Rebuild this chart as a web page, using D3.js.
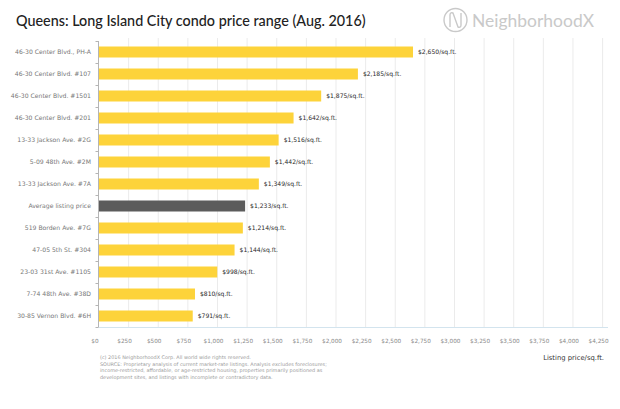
<!DOCTYPE html>
<html>
<head>
<meta charset="utf-8">
<script src="https://cdn.jsdelivr.net/npm/d3@7"></script>
<style>
  html, body { margin: 0; padding: 0; background: #fff; }
  svg { display: block; }
  text { font-family: "DejaVu Sans", "Open Sans", sans-serif; }
  .big { font-family: "Lato", "Open Sans", sans-serif; }
</style>
</head>
<body>
<script>
const categories = [
  "46-30 Center Blvd., PH-A",
  "46-30 Center Blvd. #107",
  "46-30 Center Blvd. #1501",
  "46-30 Center Blvd. #201",
  "13-33 Jackson Ave. #2G",
  "5-09 48th Ave. #2M",
  "13-33 Jackson Ave. #7A",
  "Average listing price",
  "519 Borden Ave. #7G",
  "47-05 5th St. #304",
  "23-03 31st Ave. #1105",
  "7-74 48th Ave. #38D",
  "30-85 Vernon Blvd. #6H"
];
const values = [2650, 2185, 1875, 1642, 1516, 1442, 1349, 1233, 1214, 1144, 998, 810, 791];
const highlightCategory = "Average listing price";
const xTickValues = [0, 250, 500, 750, 1000, 1250, 1500, 1750, 2000, 2250, 2500, 2750, 3000, 3250, 3500, 3750, 4000, 4250];
const title = "Queens: Long Island City condo price range (Aug. 2016)";
const brand = "NeighborhoodX";
const xAxisTitle = "Listing price/sq.ft.";
const footerLines = [
  "(c) 2016 NeighborhoodX Corp. All world wide rights reserved.",
  "SOURCE: Proprietary analysis of current market-rate listings. Analysis excludes foreclosures;",
  "income-restricted, affordable, or age-restricted housing, properties primarily positioned as",
  "development sites, and listings with incomplete or contradictory data."
];

const W = 620, H = 409;
const svg = d3.select("body").append("svg").attr("width", W).attr("height", H);
svg.append("rect").attr("width", W).attr("height", H).attr("fill", "#fff");

const x = d3.scaleLinear().domain([0, 4250]).range([99, 602.6]);
const y = d3.scaleBand().domain(categories).range([41, 327]).paddingInner(0.5).paddingOuter(0.25);

const data = categories.map((c, i) => ({ cat: c, value: values[i] }));
const fmt = d3.format("$,");

function fitWidth(sel, target) {
  const node = sel.node();
  const fs = parseFloat(sel.attr("font-size"));
  const w = node.getComputedTextLength();
  if (w > 0) sel.attr("font-size", fs * target / w);
  return sel;
}

// gridlines
svg.append("g").selectAll("line").data(xTickValues.filter(d => d > 0)).join("line")
  .attr("x1", d => x(d)).attr("x2", d => x(d))
  .attr("y1", 38).attr("y2", 327)
  .attr("stroke", "#ebebeb").attr("stroke-width", 1);

// bottom axis line
svg.append("line").attr("x1", 96).attr("x2", 608).attr("y1", 327.5).attr("y2", 327.5)
  .attr("stroke", "#d3e4ee").attr("stroke-width", 1);

// left axis line and ticks at band boundaries
const leftX = x(0) - 0.5;
svg.append("line").attr("x1", leftX).attr("x2", leftX).attr("y1", 41).attr("y2", 327)
  .attr("stroke", "#b5b5b5").attr("stroke-width", 1);
const boundaries = categories.map(c => y(c) - y.step() * y.paddingInner() / 2);
boundaries.push(y(categories[categories.length - 1]) + y.bandwidth() + y.step() * y.paddingInner() / 2);
svg.append("g").selectAll("line").data(boundaries).join("line")
  .attr("x1", leftX - 3).attr("x2", leftX)
  .attr("y1", d => Math.round(d) + 0.5).attr("y2", d => Math.round(d) + 0.5)
  .attr("stroke", "#b5b5b5").attr("stroke-width", 1);

// bars
svg.append("g").selectAll("rect").data(data).join("rect")
  .attr("x", x(0))
  .attr("y", d => y(d.cat))
  .attr("width", d => x(d.value) - x(0))
  .attr("height", y.bandwidth())
  .attr("fill", d => d.cat === highlightCategory ? "#5c5c5c" : "#fdd33a");

// category labels
const catLabels = svg.append("g").selectAll("text").data(data).join("text")
  .attr("x", 91)
  .attr("y", d => y(d.cat) + y.bandwidth() / 2)
  .attr("dy", "0.35em")
  .attr("text-anchor", "end")
  .attr("font-size", 7)
  .attr("fill", "#777")
  .text(d => d.cat);
{
  const w = catLabels.nodes()[0].getComputedTextLength();
  catLabels.attr("font-size", 7 * 76 / w);
}

// value labels
const valLabels = svg.append("g").selectAll("text").data(data).join("text")
  .attr("x", d => x(d.value) + 5)
  .attr("y", d => y(d.cat) + y.bandwidth() / 2)
  .attr("dy", "0.35em")
  .attr("font-size", 7)
  .attr("fill", "#2a2a2a")
  .text(d => fmt(d.value) + "/sq.ft.");
{
  const w = valLabels.nodes()[0].getComputedTextLength();
  valLabels.attr("font-size", 7 * 38.5 / w);
}

// x tick labels
const tickLabels = svg.append("g").selectAll("text").data(xTickValues).join("text")
  .attr("x", d => x(d) - 4)
  .attr("y", 343)
  .attr("text-anchor", "middle")
  .attr("font-size", 7)
  .attr("fill", "#888")
  .text(d => fmt(d));
{
  const w = tickLabels.filter(d => d === 1000).node().getComputedTextLength();
  tickLabels.attr("font-size", 7 * 20 / w);
}

// x axis title
const xt = svg.append("text").attr("x", 604).attr("y", 360).attr("text-anchor", "end")
  .attr("font-size", 8).attr("fill", "#333").text(xAxisTitle);
fitWidth(xt, 61);

// footer
const foot = svg.append("g").selectAll("text").data(footerLines).join("text")
  .attr("x", 100)
  .attr("y", (d, i) => 359 + i * 6.7)
  .attr("font-size", 5.5)
  .attr("fill", "#9a9a9a")
  .text(d => d);
{
  const w = foot.nodes()[1].getComputedTextLength();
  foot.attr("font-size", 5.5 * 227 / w);
}

// title
const t = svg.append("text").attr("class", "big").attr("x", 16).attr("y", 26)
  .attr("font-size", 17).attr("font-weight", 500).attr("fill", "#222").text(title);
fitWidth(t, 350);

// brand logo
const logo = svg.append("g");
logo.append("circle").attr("cx", 455.5).attr("cy", 20).attr("r", 11.5)
  .attr("fill", "none").attr("stroke", "#c9c9c9").attr("stroke-width", 1.4);
logo.append("path")
  .attr("d", "M450,27 L450,15 Q450,12 453,13 L458,27 Q461,28 461,25 L461,13")
  .attr("fill", "none").attr("stroke", "#c9c9c9").attr("stroke-width", 1.4);
const bt = logo.append("text").attr("class", "big").attr("x", 472).attr("y", 27)
  .attr("font-size", 19).attr("fill", "#c9c9c9").text(brand);
fitWidth(bt, 122);
</script>
</body>
</html>
